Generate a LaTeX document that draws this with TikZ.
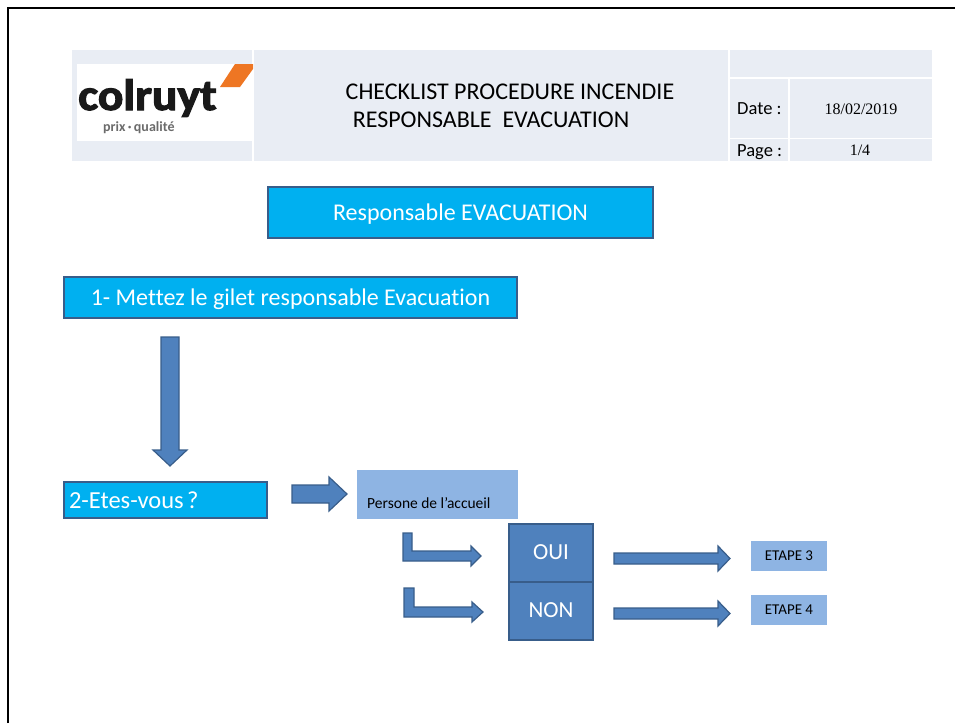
\documentclass[tikz,border=0pt]{standalone}
\usepackage{fontspec}
\setmainfont{Carlito}[Ligatures=NoCommon]
\newfontfamily\serifdate{Liberation Serif}
\usetikzlibrary{positioning}
\definecolor{hdrbg}{HTML}{E9EDF4}
\definecolor{cyanfill}{HTML}{00B0F0}
\definecolor{boxline}{HTML}{385D8A}
\definecolor{arrfill}{HTML}{4F81BD}
\definecolor{lightfill}{HTML}{8EB4E3}
\definecolor{logoorange}{HTML}{EE7623}
\definecolor{logogray}{HTML}{6B6B6B}
\newcommand{\fs}[1]{\fontsize{#1}{#1}\selectfont}
\tikzset{
  cyanbox/.style={draw=boxline, line width=2pt, fill=cyanfill, text=white, inner sep=0pt, text depth=0pt},
  lightbox/.style={fill=lightfill, text=black, inner sep=0pt},
  ansbox/.style={draw=boxline, line width=2pt, fill=arrfill, text=white, inner sep=0pt, text depth=0pt, minimum width=84pt, minimum height=58pt},
  blockarrow/.style={draw=boxline, line width=1.2pt, fill=arrfill, line join=miter},
  sepline/.style={draw=white, line width=1.5pt},
  plain/.style={inner sep=0pt}
}
\begin{document}
\begin{tikzpicture}[x=1pt,y=-1pt]
\useasboundingbox (0,0) rectangle (955,723);
% page frame
\draw[line width=2.2pt] (8,723) -- (8,8) -- (955,8);
% header table
\fill[hdrbg] (72,50) rectangle (932,161);
\draw[sepline] (253,50) -- (253,161);
\draw[sepline] (729,50) -- (729,161);
\draw[sepline] (729,78) -- (932,78);
\draw[sepline] (729,138.5) -- (932,138.5);
\draw[sepline] (789,78) -- (789,161);
% logo
\fill[white] (77,64) rectangle (253,141);
\fill[logoorange] (220,87) -- (240,87) -- (253,69) -- (253,64) -- (235,64) -- cycle;
\node[plain, anchor=base west, text=black!90] (logoname) at (78,110) {\fs{44}\bfseries\addfontfeature{FakeBold=2.5}\scalebox{1.08}[1]{colruyt}};
\node[plain, anchor=base west, text=logogray] (logotag) at (103,131) {\fs{14}\bfseries prix\,·\,qualité};
% title
\node[plain] (title1) at (510,92) {\fs{24}CHECKLIST PROCEDURE INCENDIE};
\node[plain] (title2) at (491,120) {\fs{24}RESPONSABLE\ \ EVACUATION};
\node[plain, anchor=west] (datelbl) at (737,109) {\fs{18.5}Date :};
\node[plain] (dateval) at (861,109) {\fs{16}\serifdate 18/02/2019};
\node[plain, anchor=west] (pagelbl) at (737,152) {\fs{18.5}Page :};
\node[plain] (pageval) at (860,150) {\fs{16}\serifdate 1/4};
% main boxes
\node[cyanbox, minimum width=385pt, minimum height=51pt] (resp) at (460.5,212.5) {\fs{24}Responsable EVACUATION};
\node[cyanbox, minimum width=453pt, minimum height=41pt] (step1) at (290.5,297.5) {\fs{24}1- Mettez le gilet responsable Evacuation};
\node[cyanbox, minimum width=203pt, minimum height=36pt, text width=193pt, align=left] (step2) at (165.5,500) {\fs{24.5}2-Etes-vous ?};
\node[lightbox, minimum width=161pt, minimum height=49pt, anchor=north west] (accueil) at (357,470) {};
\node[plain, anchor=base west] (accueiltxt) at (367,508) {\fs{15.5}Persone de l’accueil};
\node[ansbox] (oui) at (551,552.5) {\fs{23}OUI};
\node[ansbox] (non) at (551,610.5) {\fs{23}NON};
\node[lightbox, minimum width=76pt, minimum height=30pt] (etape3) at (789,556) {\fs{15}ETAPE 3};
\node[lightbox, minimum width=76pt, minimum height=30pt] (etape4) at (789,610) {\fs{15}ETAPE 4};
% block arrows
\draw[blockarrow] (161,337) -- (179,337) -- (179,450) -- (187,450) -- (170,466) -- (153,450) -- (161,450) -- cycle;
\draw[blockarrow] (292,485) -- (329,485) -- (329,477) -- (347,494) -- (329,511) -- (329,503) -- (292,503) -- cycle;
\draw[blockarrow] (403,533) -- (412,533) -- (412,551) -- (471,551) -- (471,546) -- (481,556) -- (471,566) -- (471,561) -- (403,561) -- cycle;
\draw[blockarrow] (404,588) -- (414,588) -- (414,607) -- (472,607) -- (472,602) -- (483,612) -- (472,622) -- (472,617) -- (404,617) -- cycle;
\draw[blockarrow] (614,553) -- (718,553) -- (718,546) -- (730,558.5) -- (718,571) -- (718,564) -- (614,564) -- cycle;
\draw[blockarrow] (614,608) -- (718,608) -- (718,601) -- (730,613.5) -- (718,626) -- (718,619) -- (614,619) -- cycle;
\end{tikzpicture}
\end{document}
